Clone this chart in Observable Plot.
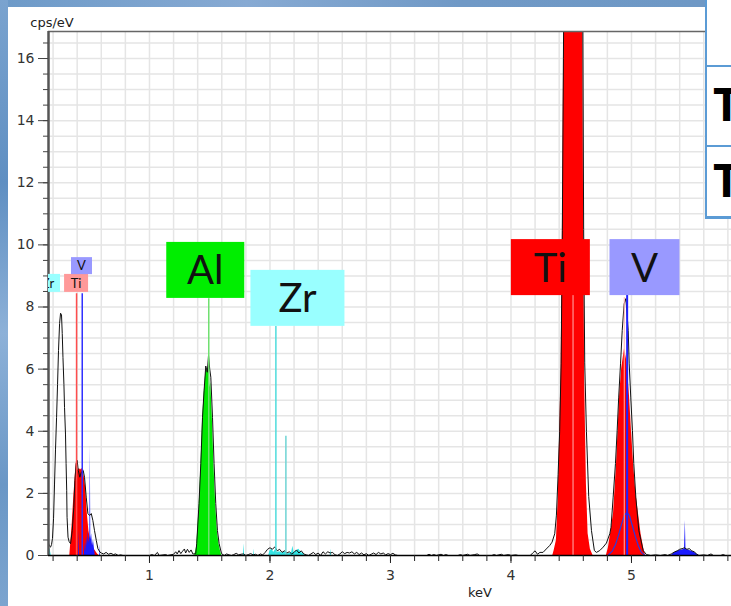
<!DOCTYPE html>
<html><head><meta charset="utf-8">
<script src="https://cdn.jsdelivr.net/npm/d3@7"></script>
<script src="https://cdn.jsdelivr.net/npm/@observablehq/plot@0.6"></script>
<style>
html,body{margin:0;padding:0;background:#fff;}
#wrap{position:relative;width:731px;height:606px;overflow:hidden;background:#fff;}
#wrap svg{position:absolute;left:0;top:0;}
.bg{position:absolute;}
#box{position:absolute;left:705px;top:-2px;width:60px;height:221px;box-sizing:border-box;border:2px solid #5b9bd5;border-bottom-width:3px;background:#fff;}
.div{position:absolute;left:0;width:100%;height:2px;background:#5b9bd5;}
.T{position:absolute;left:6px;font:700 47px "Open Sans","Liberation Sans",sans-serif;color:#000;line-height:1;}
</style></head><body>
<div id="wrap"></div>
<script>
// ---- data (keV, cps/eV) ----
const xMin = 0.162, xMax = 5.83, yMax = 16.87;
const xMajorTicks = [1, 2, 3, 4, 5];
const yMajorTicks = [0, 2, 4, 6, 8, 10, 12, 14, 16];

const spectrum = [
[0.162,0.40],[0.170,0.30],[0.179,0.27],[0.187,0.35],[0.195,0.55],[0.204,1.2],[0.212,2.3],[0.220,3.4],[0.229,4.45],[0.237,5.5],[0.245,6.6],[0.254,7.47],[0.262,7.8],[0.270,7.75],[0.276,7.15],[0.282,6.38],[0.290,5.5],[0.295,4.77],[0.303,3.91],[0.308,2.96],[0.313,2.1],[0.316,1.23],[0.324,0.59],[0.333,0.45],
[0.345,0.38],[0.359,0.8],[0.372,1.55],[0.381,2.41],[0.392,2.96],[0.400,3.06],[0.409,2.74],[0.422,2.52],[0.434,2.68],[0.450,2.74],[0.461,2.52],[0.475,1.88],[0.489,1.35],[0.503,1.29],[0.517,1.35],[0.530,1.13],[0.544,0.8],[0.559,0.48],[0.572,0.22],[0.589,0.11],
[0.60,0.08],[0.62,0.05],[0.64,0.10],[0.66,0.04],[0.68,0.07],[0.70,0.03],[0.72,0.05],[0.74,0],[0.76,0.02],[0.78,0],[1.00,0],[1.02,0.03],[1.04,0],[1.066,0.10],[1.08,0],[1.135,0.03],[1.15,0],[1.20,0.04],[1.218,0.12],[1.23,0.05],[1.245,0.16],[1.26,0.06],[1.275,0.14],[1.29,0.21],[1.30,0.08],[1.315,0.2],[1.33,0.1],[1.345,0.18],[1.36,0.05],
[1.368,0.05],[1.384,0.06],[1.392,0.38],[1.411,1.67],[1.426,2.96],[1.440,4.45],[1.453,5.3],[1.467,6.1],[1.480,5.9],[1.490,6.45],[1.500,6.0],[1.509,5.74],[1.523,4.45],[1.536,2.96],[1.550,1.67],[1.564,0.8],[1.578,0.38],[1.598,0.06],
[1.62,0],[1.64,0.05],[1.66,0.02],[1.68,0],[1.70,0.03],[1.72,0.07],[1.74,0.02],[1.76,0.04],[1.78,0.05],[1.80,0],[1.82,0.03],[1.84,0.06],[1.86,0.02],[1.88,0.04],[1.90,0],[1.92,0.05],[1.94,0.02],[1.96,0.1],[1.98,0.2],[2.00,0.25],[2.02,0.2],[2.04,0.28],[2.06,0.15],[2.08,0.2],[2.10,0.1],[2.12,0.15],[2.14,0.08],[2.16,0.12],[2.18,0.05],[2.20,0.1],[2.22,0.18],[2.24,0.08],[2.26,0.15],[2.28,0.05],[2.30,0.02],[2.32,0],[2.34,0.05],[2.36,0.1],[2.38,0.03],[2.40,0.08],[2.42,0],[2.44,0.12],[2.46,0.05],[2.48,0.12],[2.50,0.08],[2.52,0.1],[2.54,0.02],[2.56,0],[2.58,0.05],[2.60,0.12],[2.62,0.06],[2.64,0.1],[2.66,0.08],[2.68,0.12],[2.70,0.05],[2.72,0.1],[2.74,0.03],[2.76,0.08],[2.78,0.02],[2.80,0.06],[2.82,0],[2.84,0.04],[2.86,0.08],[2.88,0.03],[2.90,0.1],[2.92,0.05],[2.94,0.08],[2.96,0.02],[2.98,0.06],[3.00,0.03],[3.02,0.07],[3.04,0.02],[3.06,0],
[3.30,0],[3.32,0.04],[3.34,0],[3.36,0.03],[3.38,0],[3.42,0.04],[3.44,0],[3.46,0.03],[3.48,0],[3.56,0],[3.58,0.03],[3.60,0],[3.64,0.04],[3.66,0],[3.70,0.03],[3.72,0.05],[3.74,0],[3.84,0],[3.86,0.03],[3.88,0],[3.92,0.04],[3.94,0],[3.98,0.03],[4.00,0],[4.04,0.02],[4.06,0],[4.16,0],[4.18,0.08],[4.20,0.15],[4.22,0.04],[4.24,0.1],
[4.266,0.1],[4.293,0.21],[4.321,0.32],[4.341,0.43],[4.363,0.7],[4.377,1.3],[4.391,2.6],[4.404,4.0],[4.416,6.17],[4.426,10.46],[4.435,16],[4.451,25],[4.468,35],[4.484,46],[4.501,53],[4.518,56],[4.534,54],[4.551,48],[4.568,39],[4.584,29],[4.593,20],[4.603,10.5],[4.612,6.2],[4.626,4.0],[4.645,1.9],[4.668,0.8],[4.692,0.16],
[4.709,0.1],[4.737,0.16],[4.765,0.27],[4.792,0.4],[4.820,0.7],[4.830,0.9],[4.848,1.88],[4.867,2.96],[4.881,4.02],[4.894,5.1],[4.909,6.17],[4.923,7.24],[4.939,8.1],[4.953,8.27],[4.963,7.8],[4.973,7.24],[4.981,6.17],[4.994,5.1],[5.008,4.02],[5.019,2.96],[5.036,1.88],[5.061,0.8],[5.097,0.16],[5.124,0.03],
[5.16,0],[5.20,0.02],[5.24,0],[5.28,0.03],[5.30,0],[5.33,0.05],[5.36,0.12],[5.38,0.15],[5.40,0.2],[5.42,0.22],[5.44,0.25],[5.46,0.2],[5.48,0.22],[5.50,0.15],[5.52,0.12],[5.54,0.05],[5.56,0],[5.60,0.02],[5.63,0],[5.66,0.05],[5.68,0],[5.74,0],[5.76,0.03],[5.78,0],[5.83,0]
];

const tiFit = [
[0.339,0],[0.359,1.03],[0.372,1.88],[0.387,2.74],[0.395,3.06],[0.406,2.74],[0.418,2.8],[0.428,2.75],[0.440,2.8],[0.450,2.7],[0.460,2.5],[0.470,2.2],[0.484,1.35],[0.497,0.8],[0.511,0.48],[0.525,0.35],[0.539,0.22],[0.567,0.06],[0.58,0],
[4.347,0],[4.358,0.15],[4.377,0.48],[4.391,1.77],[4.404,3.9],[4.416,6.0],[4.426,10],[4.435,15],[4.451,25],[4.468,35],[4.484,46],[4.501,53],[4.518,56],[4.534,54],[4.551,48],[4.568,39],[4.584,29],[4.593,20],[4.603,10.5],[4.612,5.5],[4.626,2.3],[4.640,0.7],[4.659,0.2],[4.681,0],
[4.792,0],[4.809,0.26],[4.830,0.8],[4.851,1.35],[4.863,2.1],[4.876,2.96],[4.888,4.0],[4.901,5.1],[4.918,6.0],[4.942,6.66],[4.959,6.3],[4.971,5.8],[4.984,5.1],[5.000,4.0],[5.017,2.96],[5.037,2.0],[5.058,1.35],[5.079,0.7],[5.100,0.26],[5.116,0]
];
const vFit = [
[0.412,0],[0.416,0.8],[0.420,0],[0.460,0],[0.465,0.4],[0.470,0.1],[0.478,0.6],[0.485,0.3],[0.492,0.8],[0.498,0.4],[0.505,0.6],[0.509,3.55],[0.513,0.5],[0.520,0.7],[0.527,0.3],[0.535,0.5],[0.545,0.15],[0.550,0],[0.586,0],[0.589,0.35],[0.592,0],
[5.33,0],[5.36,0.1],[5.39,0.15],[5.42,0.18],[5.44,0.2],[5.447,1.13],[5.452,0.2],[5.47,0.18],[5.50,0.14],[5.53,0.08],[5.557,0]
];
const vKaFit = [
[4.809,0.02],[4.842,0.15],[4.867,0.35],[4.892,0.65],[4.917,1.0],[4.942,1.3],[4.963,1.39],[4.984,1.28],[5.008,0.95],[5.033,0.6],[5.058,0.3],[5.083,0.1],[5.108,0.02]
];
const alFit = [
[1.376,0],[1.392,0.3],[1.411,1.5],[1.426,2.8],[1.440,4.3],[1.453,5.2],[1.467,5.9],[1.484,6.0],[1.495,6.1],[1.502,5.4],[1.509,5.57],[1.523,4.3],[1.536,2.8],[1.550,1.6],[1.564,0.75],[1.578,0.35],[1.592,0.1],[1.600,0]
];
const zrFit = [
[0.162,0.25],[0.175,0.2],[0.185,0],[1.78,0],[1.784,0.38],[1.79,0],[1.864,0],[1.868,0.21],[1.872,0],
[1.99,0],[2.00,0.15],[2.02,0.2],[2.03,0.1],[2.049,0.2],[2.06,0.1],[2.08,0.12],[2.10,0.08],[2.12,0.12],[2.134,0.1],[2.15,0.05],[2.18,0.1],[2.19,0.3],[2.20,0.1],[2.22,0.15],[2.24,0.2],[2.26,0.1],[2.28,0.05],[2.29,0],[2.500,0],[2.505,0.2],[2.51,0]
];

// element marker lines: element, energy, height reached
const markerEl  = ["Ti", "V", "Al", "Zr", "Zr2", "TiK", "TiK", "VK"];
const markerE   = [0.395, 0.442, 1.492, 2.049, 2.132, 4.515, 4.940, 4.964];
const markerTop = [8.43, 8.43, 8.27, 7.37, 3.84, 8.37, 8.3, 8.37];

// element labels: text, centre energy, top value
const labelText = ["Zr", "Ti", "V", "Al", "Zr", "Ti", "V"];
const labelE    = [0.162, 0.395, 0.44, 1.467, 2.232, 4.331, 5.112];
const labelTop  = [9.05, 9.05, 9.59, 10.08, 9.18, 10.17, 10.17];

// ---- styles ----
const markerStyle = {
  Ti: ["#ff4d4d", 1.5], V: ["#3030ff", 1.5], Al: ["#6fe06f", 1.5], Zr: ["#4fdcdc", 1.5],
  Zr2: ["#6fd4d4", 1.5], TiK: ["#ffb0b0", 1], VK: ["#2020ff", 2]
};
const labelStyle = [
  {w: 24, h: 18, f: 13, fill: "#99ffff"},
  {w: 24, h: 18, f: 13, fill: "#ff9999"},
  {w: 21, h: 17, f: 13, fill: "#9999ff"},
  {w: 78, h: 56, f: 40, fill: "#00ee00"},
  {w: 94, h: 56, f: 40, fill: "#99ffff"},
  {w: 79, h: 56, f: 40, fill: "#ff0000"},
  {w: 70, h: 56, f: 40, fill: "#9999ff"}
];
const gridColor = "#e5e5e5";
const X = d => d[0], Y = d => d[1];

const markers = markerEl.map((el, i) => ({el, e: markerE[i], top: markerTop[i]}));

const plot = Plot.plot({
  width: 731, height: 606,
  marginLeft: 48, marginRight: 0, marginTop: 31, marginBottom: 51,
  x: {domain: [xMin, xMax]},
  y: {domain: [0, yMax]},
  style: {fontFamily: "DejaVu Sans, sans-serif", fontSize: "14px", color: "#333", background: "transparent"},
  marks: [
    Plot.ruleX(d3.range(0.2, 5.81, 0.2), {stroke: gridColor, strokeWidth: 1.5}),
    Plot.ruleY(d3.range(0.5, 16.6, 0.5), {stroke: gridColor, strokeWidth: 1.5}),
    Plot.areaY(zrFit, {x: X, y: Y, fill: "#33e3e3", clip: true}),
    Plot.areaY(alFit, {x: X, y: Y, fill: "#00e800", clip: true}),
    Plot.areaY(tiFit, {x: X, y: Y, fill: "#ff0000", clip: true}),
    Plot.areaY(vFit, {x: X, y: Y, fill: "#1a1aff", clip: true}),
    Plot.line(spectrum, {x: X, y: Y, stroke: "#111", strokeWidth: 1, clip: true}),
    Plot.line(vKaFit, {x: X, y: Y, stroke: "#2a3ae0", strokeWidth: 1.2, clip: true}),
    Plot.ruleX(markers, {x: "e", y1: 0, y2: "top", stroke: d => markerStyle[d.el][0], strokeWidth: d => markerStyle[d.el][1]}),
    Plot.ruleY([yMax], {stroke: "#666", strokeWidth: 1.5}),
    Plot.ruleX([xMin], {stroke: "#555", strokeWidth: 2.5}),
    Plot.ruleY([0], {stroke: "#000", strokeWidth: 1.5}),
    Plot.axisY(yMajorTicks, {tickSize: 10, tickPadding: 4, tickFormat: d => String(d), label: null, stroke: "#444"}),
    Plot.axisY(d3.range(0, 16.6, 0.5), {tickSize: 5, tickFormat: () => "", label: null, stroke: "#444"}),
    Plot.axisX(xMajorTicks, {tickSize: 8, tickPadding: 7, tickFormat: d => String(d), label: null, stroke: "#222"}),
    Plot.axisX(d3.range(0.2, 5.81, 0.2), {tickSize: 6, tickFormat: () => "", label: null, stroke: "#222"})
  ]
});

const wrap = document.getElementById("wrap");
wrap.appendChild(plot);

// labels drawn through the plot's own scales
const sx = plot.scale("x"), sy = plot.scale("y");
const svg = d3.select(plot);
const [rx0, rx1] = sx.range, [ry0, ry1] = sy.range;
svg.append("defs").append("clipPath").attr("id", "pclip").append("rect")
  .attr("x", rx0).attr("y", Math.min(ry0, ry1)).attr("width", rx1 - rx0).attr("height", Math.abs(ry0 - ry1));
const g = svg.append("g").attr("clip-path", "url(#pclip)");
labelText.forEach((t, i) => {
  const s = labelStyle[i];
  const cx = sx.apply(labelE[i]), ty = sy.apply(labelTop[i]);
  g.append("rect").attr("x", cx - s.w / 2).attr("y", ty).attr("width", s.w).attr("height", s.h).attr("fill", s.fill);
  g.append("text").attr("x", cx).attr("y", ty + s.h / 2 + s.f * 0.36)
    .attr("text-anchor", "middle").attr("font-family", "Lato, 'Noto Sans', sans-serif")
    .attr("font-size", s.f).attr("fill", "#111").text(t);
});
svg.append("text").attr("x", 52).attr("y", 27).attr("font-family", "DejaVu Sans, sans-serif")
  .attr("font-size", 13).attr("fill", "#222").text("cps/eV");
svg.append("text").attr("x", 480).attr("y", 597).attr("text-anchor", "middle").attr("font-family", "DejaVu Sans, sans-serif")
  .attr("font-size", 13).attr("fill", "#222").text("keV");

// window chrome around the screenshot
const topStrip = document.createElement("div");
topStrip.className = "bg";
topStrip.style.cssText = "left:0;top:0;width:706px;height:7px;background:linear-gradient(90deg,#6d9ac8,#87aad3 35%,#7099c6 65%,#6e98c5)";
const leftStrip = document.createElement("div");
leftStrip.className = "bg";
leftStrip.style.cssText = "left:0;top:0;width:8px;height:606px;background:linear-gradient(180deg,#7aa3cf,#5f8fc2 30%,#8db1d8 55%,#6a97c6 80%,#7ba4cf)";
wrap.appendChild(topStrip); wrap.appendChild(leftStrip);
const box = document.createElement("div");
box.id = "box";
box.innerHTML = '<div class="div" style="top:65px"></div><div class="div" style="top:145px"></div>' +
  '<div class="T" style="top:80px">T</div><div class="T" style="top:156px">T</div>';
wrap.appendChild(box);
</script>
</body></html>
